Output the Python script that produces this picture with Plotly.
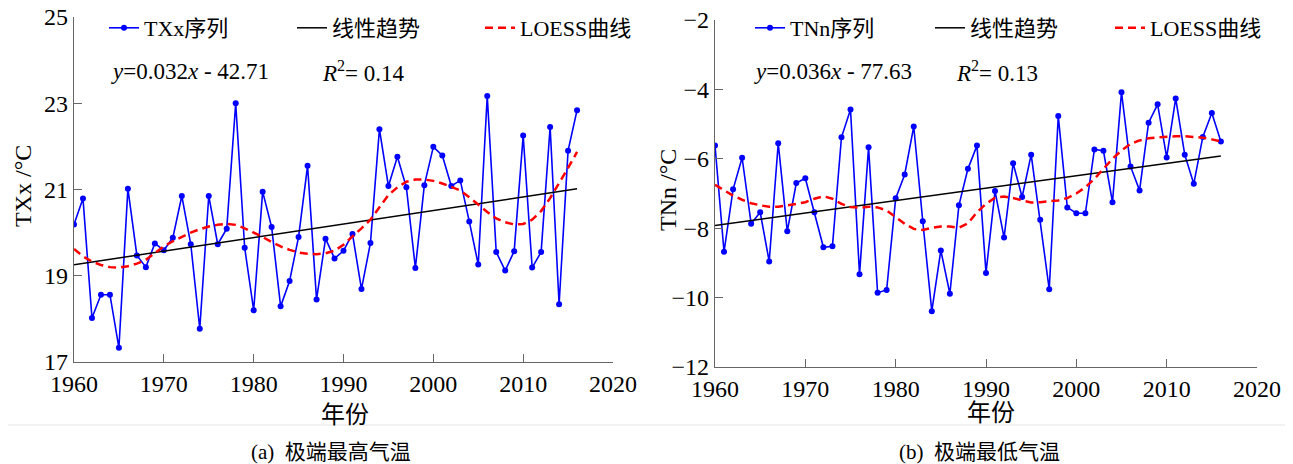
import numpy as np
import plotly.graph_objects as go

# ---------------- data ----------------
years = list(range(1960, 2017))

txx = [20.19, 20.79, 18.02, 18.56, 18.56, 17.33, 21.02, 19.47, 19.20, 19.75,
       19.59, 19.88, 20.85, 19.73, 17.77, 20.85, 19.73, 20.09, 23.00, 19.65,
       18.20, 20.95, 20.13, 18.29, 18.88, 19.90, 21.55, 18.45, 19.86, 19.40,
       19.58, 19.97, 18.69, 19.76, 22.40, 21.08, 21.76, 21.05, 19.18, 21.10,
       21.99, 21.79, 21.08, 21.21, 20.26, 19.26, 23.17, 19.55, 19.12, 19.57,
       22.25, 19.19, 19.55, 22.45, 18.34, 21.90, 22.84]

txx_loess = [19.62, 19.45, 19.33, 19.25, 19.20, 19.19, 19.22, 19.28, 19.37, 19.52,
             19.68, 19.80, 19.90, 20.00, 20.08, 20.14, 20.18, 20.20, 20.18, 20.10,
             20.00, 19.90, 19.78, 19.68, 19.60, 19.54, 19.51, 19.50, 19.52, 19.58,
             19.72, 19.90, 20.10, 20.30, 20.60, 20.87, 21.05, 21.18, 21.23, 21.23,
             21.20, 21.14, 21.06, 20.98, 20.82, 20.64, 20.48, 20.33, 20.24, 20.19,
             20.20, 20.30, 20.50, 20.80, 21.14, 21.50, 21.87]

tnn = [-5.62, -8.68, -6.88, -5.97, -7.87, -7.54, -8.96, -5.55, -8.09, -6.70,
       -6.56, -7.54, -8.55, -8.52, -5.38, -4.58, -9.33, -5.67, -9.86, -9.78,
       -7.14, -6.45, -5.07, -7.80, -10.39, -8.64, -9.89, -7.34, -6.29, -5.62,
       -9.29, -6.93, -8.27, -6.13, -7.10, -5.88, -7.76, -9.76, -4.77, -7.40,
       -7.57, -7.57, -5.73, -5.77, -7.25, -4.08, -6.22, -6.91, -4.96, -4.43,
       -5.96, -4.26, -5.88, -6.72, -5.37, -4.68, -5.50]

tnn_loess = [-6.75, -6.90, -7.06, -7.18, -7.28, -7.34, -7.38, -7.38, -7.35, -7.30,
             -7.25, -7.15, -7.08, -7.15, -7.30, -7.39, -7.41, -7.38, -7.40, -7.49,
             -7.68, -7.87, -8.02, -8.05, -7.99, -7.95, -7.95, -7.99, -7.86, -7.54,
             -7.30, -7.12, -7.09, -7.13, -7.20, -7.26, -7.25, -7.23, -7.20, -7.13,
             -7.00, -6.82, -6.58, -6.29, -6.00, -5.76, -5.57, -5.47, -5.41, -5.38,
             -5.36, -5.35, -5.35, -5.36, -5.39, -5.44, -5.50]

x_ticks = [1960, 1970, 1980, 1990, 2000, 2010, 2020]
txx_ticks = [17, 19, 21, 23, 25]
tnn_ticks = [-12, -10, -8, -6, -4, -2]

eq_a = "<i>y</i>=0.032<i>x</i> - 42.71"
r2_a = "<i>R</i><sup>2</sup>= 0.14"
eq_b = "<i>y</i>=0.036<i>x</i> - 77.63"
r2_b = "<i>R</i><sup>2</sup>= 0.13"

# ---------------- figure ----------------
W, H = 1293, 464
FONT = "Liberation Serif, Times New Roman, Noto Sans CJK SC, serif"
AXC = "#666666"

def px(x):
    return x / W

def py(y):
    return (H - y) / H

yr = np.array(years, dtype=float)
trend_txx = np.polyval(np.polyfit(yr, txx, 1), yr)
trend_tnn = np.polyval(np.polyfit(yr, tnn, 1), yr)

fig = go.Figure()

def add_panel(xa, ya, leg, name, vals, trend, loess):
    fig.add_trace(go.Scatter(x=years, y=vals, mode="lines+markers", name=name,
                             line=dict(color="#0000FF", width=1.6),
                             marker=dict(color="#0000FF", size=6),
                             xaxis=xa, yaxis=ya, legend=leg))
    fig.add_trace(go.Scatter(x=years, y=trend, mode="lines", name="线性趋势",
                             line=dict(color="#000000", width=1.5),
                             xaxis=xa, yaxis=ya, legend=leg))
    fig.add_trace(go.Scatter(x=years, y=loess, mode="lines", name="LOESS曲线",
                             line=dict(color="#FF0000", width=2.5, dash="8px,5px"),
                             xaxis=xa, yaxis=ya, legend=leg))

add_panel("x", "y", "legend", "TXx序列", txx, trend_txx, txx_loess)
add_panel("x2", "y2", "legend2", "TNn序列", tnn, trend_tnn, tnn_loess)

axis_common = dict(showgrid=False, zeroline=False, showline=True, linecolor=AXC,
                   linewidth=1.3, ticks="inside", ticklen=8, tickcolor=AXC,
                   tickwidth=1.3, mirror=False, automargin=False,
                   tickfont=dict(family=FONT, size=24, color="black"))

legend_common = dict(orientation="h", xanchor="left", yanchor="middle",
                     bgcolor="rgba(0,0,0,0)", entrywidthmode="pixels",
                     font=dict(family=FONT, size=22, color="black"), itemwidth=30,
                     tracegroupgap=0)

fig.update_layout(
    width=W, height=H, autosize=False,
    margin=dict(l=0, r=0, t=0, b=0, pad=0),
    paper_bgcolor="white", plot_bgcolor="white",
    font=dict(family=FONT, color="black"),
    xaxis=dict(domain=[px(74), px(613)], range=[1960, 2020], tickvals=x_ticks,
               anchor="y", **axis_common),
    yaxis=dict(domain=[py(362), py(17)], range=[17, 25], tickvals=txx_ticks,
               anchor="x", **axis_common),
    xaxis2=dict(domain=[px(715), px(1257)], range=[1960, 2020], tickvals=x_ticks,
                anchor="y2", **axis_common),
    yaxis2=dict(domain=[py(367), py(20)], range=[-12, -2], tickvals=tnn_ticks,
                anchor="x2", **axis_common),
    legend=dict(x=px(104), y=py(28), entrywidth=143, **legend_common),
    legend2=dict(x=px(750), y=py(28), entrywidth=135, **legend_common),
)

ann = []
def A(x, y, text, size, xanchor="center", textangle=0):
    ann.append(dict(x=px(x), y=py(y), xref="paper", yref="paper", text=text,
                    showarrow=False, xanchor=xanchor, yanchor="middle",
                    textangle=textangle,
                    font=dict(family=FONT, size=size, color="black")))

A(109, 72, eq_a, 23, "left")
A(320, 72, r2_a, 23, "left")
A(752, 72, eq_b, 23, "left")
A(954, 72, r2_b, 23, "left")
A(345, 415, "年份", 24)
A(991, 413, "年份", 24)
A(23, 186, "TXx /°C", 24, textangle=-90)
A(668, 190, "TNn /°C", 24, textangle=-90)
A(331, 452, "(a)  极端最高气温", 21)
A(980, 452, "(b)  极端最低气温", 21)
fig.update_layout(annotations=ann)

fig.add_shape(type="line", xref="paper", yref="paper", x0=px(8), x1=px(1285),
              y0=py(425), y1=py(425), line=dict(color="#eeeeee", width=1.5))

fig.write_html("out.html", config={"responsive": False, "displayModeBar": False},
               post_script="document.body.style.margin='0';document.body.style.overflow='hidden';")
